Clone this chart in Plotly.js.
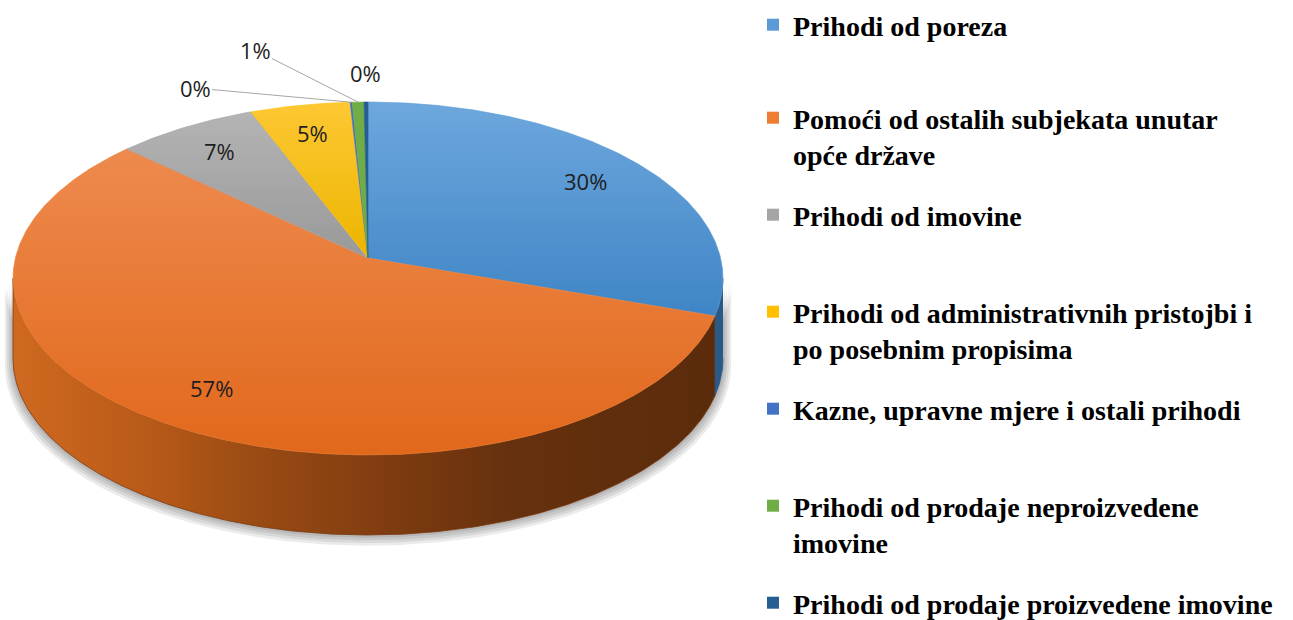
<!DOCTYPE html>
<html><head><meta charset="utf-8">
<script src="https://cdn.plot.ly/plotly-3.0.1.min.js"></script>
<style>html,body{margin:0;padding:0;background:#fff}#chart{width:1293px;height:620px}</style>
</head><body><div id="chart"></div>
<script>
// ---------- DATA ----------
const categories = [
  'Prihodi od poreza',
  'Pomoći od ostalih subjekata unutar opće države',
  'Prihodi od imovine',
  'Prihodi od administrativnih pristojbi i po posebnim propisima',
  'Kazne, upravne mjere i ostali prihodi',
  'Prihodi od prodaje neproizvedene imovine',
  'Prihodi od prodaje proizvedene imovine'
];
const legendNames = [
  'Prihodi od poreza',
  'Pomoći od ostalih subjekata unutar<br>opće države',
  'Prihodi od imovine',
  'Prihodi od administrativnih pristojbi i<br>po posebnim propisima',
  'Kazne, upravne mjere i ostali prihodi',
  'Prihodi od prodaje neproizvedene<br>imovine',
  'Prihodi od prodaje proizvedene imovine'
];
const values = [30.2, 56.6, 7.2, 5.1, 0.1, 0.6, 0.2];

// ---------- STYLE ----------
const colors = ['#5B9BD5', '#ED7D31', '#A5A5A5', '#FFC000', '#4472C4', '#70AD47', '#255E91'];
const topGradients = [
  ['#6DA7DD', '#3F85C5'],
  ['#EE8A4E', '#E1681B'],
  ['#B4B4B4', '#999999'],
  ['#FDC833', '#ECB500'],
  null, null, null
];
const wallScales = [
  [[0, '#4A88C4'], [1, '#2B5987']],
  [[0, '#D06920'], [0.19, '#B85A18'], [0.33, '#9C4C14'], [0.55, '#7C3A10'], [0.7, '#66310E'], [1, '#5A2B0B']],
  [[0, '#8A8A8A'], [1, '#555555']],
  [[0, '#D9A300'], [1, '#8C6A00']],
  [[0, '#3A62A8'], [1, '#22406E']],
  [[0, '#5E9439'], [1, '#3A5C24']],
  [[0, '#1F4E79'], [1, '#123050']]
];
const geo = {cx: 368, cy: 258, A: 352.6, E: 174.1, p: 0.1162, T: 80, labelR: 0.8};
const outsideLabels = {4: {pos: [195, 88], leader: true}, 5: {pos: [255, 50], leader: true}, 6: {pos: [365, 73], leader: false}};
const labelFont = {family: '"Open Sans", Lato, sans-serif', size: 22, color: '#1E1E1E'};
const legendFont = {family: '"Liberation Serif", "Times New Roman", serif', size: 28, weight: 'bold', color: '#000000'};

// ---------- GEOMETRY ----------
function proj(deg, r, dy) {
  const t = deg * Math.PI / 180;
  const u = r * Math.sin(t), w = r * Math.cos(t);
  const d = 1 + geo.p * w;
  return [geo.cx + geo.A * u / d, geo.cy - geo.E * w / d + (dy || 0)];
}
function arc(d0, d1, r, dy) {
  const n = Math.max(2, Math.ceil(Math.abs(d1 - d0) / 0.5));
  const pts = [];
  for (let i = 0; i <= n; i++) pts.push(proj(d0 + (d1 - d0) * i / n, r, dy));
  return pts;
}
const total = values.reduce((a, b) => a + b, 0);
const starts = [], ends = [];
let acc = 0;
values.forEach(v => { starts.push(acc / total * 360); acc += v; ends.push(acc / total * 360); });

const silR = Math.acos(-geo.p) * 180 / Math.PI;
const silL = 360 - silR;
const xL = proj(silL, 1, 0)[0], xR = proj(silR, 1, 0)[0];

const traces = [];
function poly(pts, extra) {
  return Object.assign({
    type: 'scatter', mode: 'lines', fill: 'toself',
    x: pts.map(p => p[0]), y: pts.map(p => p[1]),
    hoverinfo: 'skip', showlegend: false
  }, extra);
}

// soft shadow around the front wall
[8, 6, 4, 2].forEach(k => {
  const r = 1 + k / 350;
  const pts = arc(silR, silL, r, 2).concat(arc(silL, silR, r, geo.T + k * 0.7));
  traces.push(poly(pts, {line: {width: 0}, fillcolor: 'rgba(0,0,0,0.08)'}));
});

// walls (front visible part)
values.forEach((v, i) => {
  const a0 = Math.max(starts[i], silR), a1 = Math.min(ends[i], silL);
  if (a1 <= a0) return;
  const pts = arc(a0, a1, 1, 0).concat(arc(a1, a0, 1, geo.T));
  traces.push(poly(pts, {
    line: {width: 0.8, color: wallScales[i][Math.floor(wallScales[i].length / 2)][1]},
    fillcolor: colors[i],
    fillgradient: {type: 'horizontal', start: xL, stop: xR, colorscale: wallScales[i]}
  }));
});

// top faces
values.forEach((v, i) => {
  const pts = [[geo.cx, geo.cy]].concat(arc(starts[i], ends[i], 1, 0)).concat([[geo.cx, geo.cy]]);
  const ys = pts.map(p => p[1]);
  const t = {line: {width: 0.6, color: colors[i]}, fillcolor: colors[i], name: categories[i]};
  if (topGradients[i]) {
    t.fillgradient = {type: 'vertical', start: Math.min(...ys), stop: Math.max(...ys),
      colorscale: [[0, topGradients[i][0]], [1, topGradients[i][1]]]};
  }
  traces.push(poly(pts, t));
});

// legend-only entries
values.forEach((v, i) => {
  traces.push({
    type: 'scatter', mode: 'markers', x: [null], y: [null],
    name: legendNames[i], legend: i === 0 ? 'legend' : 'legend' + (i + 1),
    marker: {symbol: 'square', size: 12, color: colors[i]},
    showlegend: true, hoverinfo: 'skip'
  });
});

// data labels
const annotations = values.map((v, i) => {
  const mid = (starts[i] + ends[i]) / 2;
  const text = Math.round(v / total * 100) + '%';
  if (outsideLabels[i]) {
    const o = outsideLabels[i];
    const tgt = proj(mid, 1, 0);
    if (o.leader) {
      return {xref: 'x', yref: 'y', x: tgt[0], y: tgt[1], axref: 'x', ayref: 'y', ax: o.pos[0], ay: o.pos[1],
        text: text, showarrow: true, arrowhead: 0, arrowwidth: 1, arrowcolor: '#A6A6A6', standoff: 0,
        font: labelFont};
    }
    return {xref: 'x', yref: 'y', x: o.pos[0], y: o.pos[1], text: text, showarrow: false, font: labelFont};
  }
  const p = proj(mid, geo.labelR, 0);
  return {xref: 'x', yref: 'y', x: p[0], y: p[1], text: text, showarrow: false, font: labelFont};
});

const layout = {
  width: 1293, height: 620,
  margin: {l: 0, r: 0, t: 0, b: 0, pad: 0, autoexpand: false},
  paper_bgcolor: '#ffffff', plot_bgcolor: '#ffffff',
  xaxis: {range: [0, 1293], visible: false, fixedrange: true},
  yaxis: {range: [620, 0], visible: false, fixedrange: true},
  annotations: annotations,
  showlegend: true
};
values.forEach((v, i) => {
  const key = i === 0 ? 'legend' : 'legend' + (i + 1);
  const top = 33 + 97.0 * i - 37;
  layout[key] = {
    xref: 'container', yref: 'container',
    x: 753 / 1293, xanchor: 'left', y: 1 - top / 620, yanchor: 'top', valign: 'top',
    font: legendFont, bgcolor: 'rgba(0,0,0,0)', borderwidth: 0, itemclick: false, itemdoubleclick: false
  };
});

Plotly.newPlot('chart', traces, layout, {staticPlot: true, displayModeBar: false});
</script>
</body></html>
